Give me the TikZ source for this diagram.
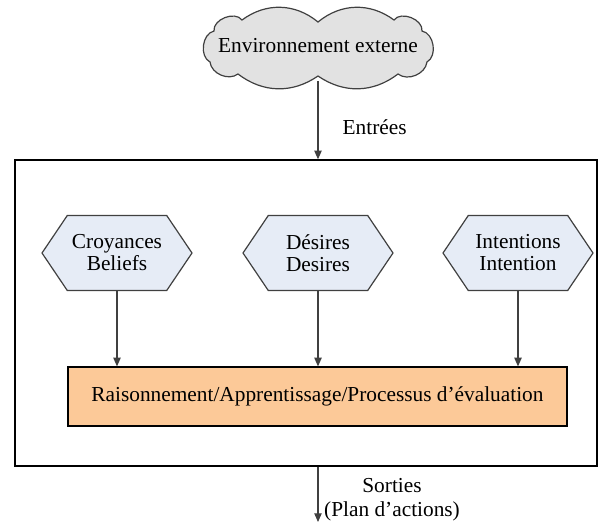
\documentclass[tikz,border=0pt]{standalone}
\usepackage{fontspec}
\setmainfont{Liberation Serif}
\usetikzlibrary{shapes.symbols,arrows.meta}
\definecolor{linec}{HTML}{404040}
\definecolor{hexfill}{HTML}{E6ECF6}
\definecolor{orangefill}{HTML}{FCC998}
\definecolor{cloudfill}{HTML}{E2E2E2}
\tikzset{
  lbl/.style={font=\fontsize{16}{16.5}\selectfont, text=black},
  hexbox/.style={signal, signal to=west and east, signal pointer angle=112,
    draw=linec, line width=0.9pt, fill=hexfill, minimum width=150*0.75pt,
    minimum height=75*0.75pt, inner sep=0pt, align=center, lbl},
  arr/.style={draw=linec, line width=0.9pt, -{Triangle[length=6.5pt,width=5.5pt]}},
  cloudline/.style={draw=linec, line width=0.9pt, fill=cloudfill},
}
\begin{document}
\begin{tikzpicture}[x=0.75pt,y=-0.75pt]
\useasboundingbox (0,0) rectangle (611,526);
% cloud outline
\path[cloudline] (214,31) to[bend left=75] (242,20)
  to[bend left=38] (318,22) to[bend left=38] (394,20)
  to[bend left=75] (422,31) to[bend left=70] (427,62)
  to[bend left=60] (398,74) to[bend left=36] (318,76)
  to[bend left=36] (238,74) to[bend left=60] (210,62)
  to[bend left=70] cycle;
\node[lbl] (env) at (318,46) {Environnement externe};
\node[draw=black, line width=1pt, minimum width=582*0.75pt, minimum height=306*0.75pt,
  inner sep=0pt] (sys) at (306,313) {};
\node[hexbox] (cro) at (117,253) {Croyances\\Beliefs};
\node[hexbox] (des) at (318,253) {Désires\\Desires};
\node[hexbox] (int) at (518,253) {Intentions\\Intention};
\node[draw=black, line width=0.9pt, fill=orangefill, minimum width=499*0.75pt,
  minimum height=59*0.75pt, inner sep=0pt, lbl] (rai) at (317.5,396.5)
  {Raisonnement/Apprentissage/Processus d’évaluation};
\coordinate (envb) at (318,81);
\draw[arr] (envb) -- (envb |- sys.north);
\node[lbl, anchor=base west] (ent) at (338,134) {Entrées};
\draw[arr] (cro.south) -- (cro.south |- rai.north);
\draw[arr] (des.south) -- (des.south |- rai.north);
\draw[arr] (int.south) -- (int.south |- rai.north);
\coordinate (out) at (318,522);
\draw[arr] (sys.south -| out) -- (out);
\node[lbl, anchor=base] (sor) at (392,492) {Sorties};
\node[lbl, anchor=base] (plan) at (392,516) {(Plan d’actions)};
\end{tikzpicture}
\end{document}
